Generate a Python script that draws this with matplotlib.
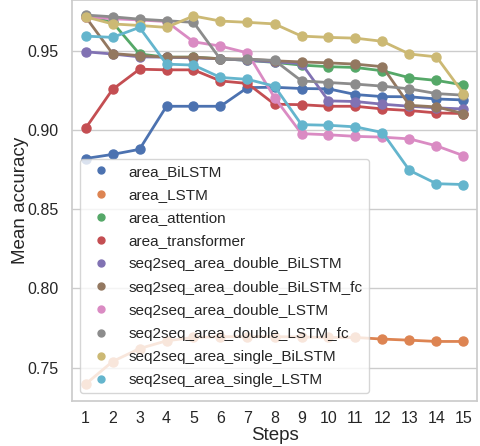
import matplotlib
matplotlib.use("Agg")
import matplotlib.pyplot as plt
from matplotlib.lines import Line2D
import seaborn as sns

sns.set_theme(style="whitegrid")
plt.rcParams['font.family'] = ['Liberation Sans', 'DejaVu Sans']

steps = list(range(1, 16))
series_names = [
    "area_BiLSTM", "area_LSTM", "area_attention", "area_transformer",
    "seq2seq_area_double_BiLSTM", "seq2seq_area_double_BiLSTM_fc",
    "seq2seq_area_double_LSTM", "seq2seq_area_double_LSTM_fc",
    "seq2seq_area_single_BiLSTM", "seq2seq_area_single_LSTM",
]
area_BiLSTM = [0.882, 0.8846, 0.8878, 0.915, 0.915, 0.915, 0.9268, 0.927, 0.9262, 0.926, 0.9224, 0.9211, 0.921, 0.9196, 0.919]
area_LSTM = [0.7395, 0.7538, 0.762, 0.7669, 0.769, 0.7695, 0.7695, 0.7695, 0.7693, 0.769, 0.769, 0.768, 0.7673, 0.7665, 0.7665]
area_attention = [0.972, 0.968, 0.948, 0.946, 0.946, 0.945, 0.944, 0.9427, 0.941, 0.940, 0.9395, 0.9374, 0.933, 0.9313, 0.9285]
area_transformer = [0.901, 0.9256, 0.9384, 0.938, 0.938, 0.931, 0.9294, 0.9163, 0.916, 0.915, 0.915, 0.9133, 0.9123, 0.9108, 0.9104]
s2s_double_BiLSTM = [0.9494, 0.948, 0.9462, 0.946, 0.9455, 0.945, 0.944, 0.943, 0.942, 0.9184, 0.918, 0.9163, 0.915, 0.914, 0.9133]
s2s_double_BiLSTM_fc = [0.9715, 0.9483, 0.947, 0.946, 0.946, 0.945, 0.9448, 0.9437, 0.943, 0.9424, 0.9416, 0.940, 0.9156, 0.9146, 0.9104]
s2s_double_LSTM = [0.9715, 0.9703, 0.9695, 0.9685, 0.9557, 0.953, 0.9487, 0.9205, 0.8977, 0.897, 0.896, 0.8955, 0.8944, 0.890, 0.8838]
s2s_double_LSTM_fc = [0.9726, 0.9715, 0.970, 0.969, 0.968, 0.9446, 0.9446, 0.944, 0.931, 0.930, 0.929, 0.9277, 0.926, 0.923, 0.922]
s2s_single_BiLSTM = [0.9715, 0.967, 0.966, 0.9648, 0.972, 0.9688, 0.968, 0.967, 0.9593, 0.9585, 0.958, 0.956, 0.948, 0.9462, 0.923]
s2s_single_LSTM = [0.9593, 0.9585, 0.9648, 0.9416, 0.941, 0.9332, 0.932, 0.9277, 0.9034, 0.903, 0.902, 0.8984, 0.8745, 0.8661, 0.8656]

all_series = [area_BiLSTM, area_LSTM, area_attention, area_transformer,
              s2s_double_BiLSTM, s2s_double_BiLSTM_fc, s2s_double_LSTM,
              s2s_double_LSTM_fc, s2s_single_BiLSTM, s2s_single_LSTM]

colors = sns.color_palette("deep", 10)

fig = plt.figure(figsize=(4.81, 4.46), dpi=100)
ax = fig.add_axes([72/481, 45/446, 405/481, 401/446])

for name, vals, c in zip(series_names, all_series, colors):
    ax.plot(steps, vals, marker='o', color=c, lw=2.0, ms=6.5, label=name)

ax.set_xlim(0.5, 15.5)
ax.set_ylim(0.7289, 0.9821)
ax.set_xticks(steps)
ax.set_yticks([0.75, 0.80, 0.85, 0.90, 0.95])
ax.set_yticklabels(["0.75", "0.80", "0.85", "0.90", "0.95"])
ax.grid(axis='x', visible=False)
ax.set_xlabel("Steps", fontsize=13.5)
ax.set_ylabel("Mean accuracy", fontsize=13.5)
ax.yaxis.set_label_coords(-0.106, 0.5)
ax.xaxis.set_label_coords(0.5, -0.065)
ax.tick_params(labelsize=11.5)
ax.tick_params(axis='x', pad=1.5)

handles = [Line2D([], [], ls='none', marker='o', color=c, ms=5) for c in colors]
ax.legend(handles, series_names, loc='lower left', fontsize=11, labelspacing=0.6)

fig.savefig("out.png", dpi=100)
